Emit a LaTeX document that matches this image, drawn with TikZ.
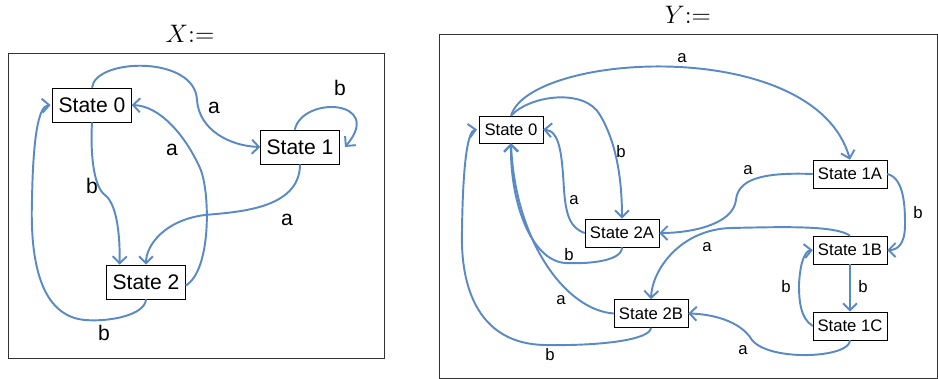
\documentclass[tikz,border=0pt]{standalone}
\usepackage{fontspec}
\setmainfont{Liberation Sans}
\usepackage{tikz}
\usetikzlibrary{arrows.meta}
\definecolor{edgeblue}{HTML}{5A8AC6}
\definecolor{framegray}{HTML}{333333}

\begin{document}
\begin{tikzpicture}[x=0.02cm, y=-0.02cm, >={Straight Barb[length=4pt,width=8pt]},
    bigstate/.style={draw, thin, minimum width=44.8pt, minimum height=19.3pt, inner sep=0pt, font=\fontsize{12}{14}\selectfont},
    smallstate/.style={draw, thin, minimum width=42pt, minimum height=15.9pt, inner sep=0pt, font=\fontsize{9.5}{11}\selectfont},
    biglabel/.style={font=\fontsize{12}{14}\selectfont},
    smalllabel/.style={font=\fontsize{9.5}{11}\selectfont},
    edge/.style={->, edgeblue, line width=1.1pt}]
    \useasboundingbox (0,0) rectangle (938,379);

    % Frames and titles
    \draw[framegray, thin] (8,53) rectangle (384,358);
    \draw[framegray, thin] (439,34) rectangle (937.5,378);
    \node[font=\fontsize{14}{16}\selectfont] (xtitle) at (190,34) {$X{:=}$};
    \node[font=\fontsize{14}{16}\selectfont] (ytitle) at (688,15) {$Y{:=}$};

    % Automaton X
    \node[bigstate] (x0) at (92,105) {State 0};
    \node[bigstate] (x1) at (300,147) {State 1};
    \node[bigstate] (x2) at (146,282) {State 2};

    \draw[edge] (x0.north) .. controls (95,58) and (195,55) .. (197,100)
        .. controls (199,130) and (230,146) .. (x1.west);
    \draw[edge] ([xshift=-3pt]x1.north) .. controls (303,95) and (385,100) .. ([xshift=3pt]x1.east);
    \draw[edge] (x1.south) .. controls (300,210) and (235,212) .. (205,215)
        .. controls (165,220) and (146,245) .. (x2.north);
    \draw[edge] (x0.south) .. controls (90,160) and (95,188) .. (105,195)
        .. controls (118,205) and (120,240) .. ([xshift=-15pt]x2.north);
    \draw[edge] ([yshift=-2pt]x2.east) .. controls (212,270) and (210,190) .. (200,168)
        .. controls (185,135) and (160,106) .. (x0.east);
    \draw[edge] (x2.south) .. controls (145,315) and (110,322) .. (85,320)
        .. controls (40,316) and (30,260) .. (32,200)
        .. controls (33,140) and (38,106) .. ([xshift=-1pt]x0.west);

    \node[biglabel] (xa1) at (214,108) {a};
    \node[biglabel] (xb1) at (340,88) {b};
    \node[biglabel] (xa2) at (287,220) {a};
    \node[biglabel] (xb2) at (92,186) {b};
    \node[biglabel] (xa3) at (172,150) {a};
    \node[biglabel] (xb3) at (104,333) {b};

    % Automaton Y
    \node[smallstate, minimum width=36.3pt, minimum height=15.3pt] (y0) at (511,129.5) {State 0};
    \node[smallstate] (y2a) at (622,233) {State 2A};
    \node[smallstate] (y2b) at (651,313.5) {State 2B};
    \node[smallstate] (y1a) at (850,174) {State 1A};
    \node[smallstate] (y1b) at (850,250) {State 1B};
    \node[smallstate] (y1c) at (850,326) {State 1C};

    \draw[edge] (y0.north) .. controls (530,52) and (815,35) .. (y1a.north);
    \draw[edge] (y0.north) .. controls (530,95) and (585,88) .. (600,115)
        .. controls (618,145) and (622,185) .. (y2a.north);
    \draw[edge] (y2a.west) .. controls (570,228) and (566,215) .. (564,190)
        .. controls (562,155) and (560,131) .. (y0.east);
    \draw[edge] (y2a.south) .. controls (622,262) and (585,264) .. (565,263)
        .. controls (530,260) and (510,200) .. (y0.south);
    \draw[edge] (y2b.west) .. controls (565,310) and (515,240) .. (y0.south);
    \draw[edge] (y2b.south) .. controls (650,340) and (600,346) .. (545,345)
        .. controls (480,344) and (460,290) .. (462,230)
        .. controls (463,160) and (468,131) .. ([xshift=-1pt]y0.west);
    \draw[edge] (y1a.west) .. controls (760,172) and (738,180) .. (736,200)
        .. controls (733,225) and (690,233) .. (y2a.east);
    \draw[edge] (y1a.east) .. controls (905,178) and (905,210) .. (905,225)
        .. controls (905,245) and (897,250) .. (y1b.east);
    \draw[edge] (y1b.north) .. controls (835,225) and (780,227) .. (730,228)
        .. controls (680,230) and (652,270) .. (y2b.north);
    \draw[edge] (y1b.south) -- (y1c.north);
    \draw[edge] (y1c.west) .. controls (800,318) and (799,300) .. (799,285)
        .. controls (800,262) and (805,251) .. (y1b.west);
    \draw[edge] (y1c.south) .. controls (850,358) and (770,362) .. (752,340)
        .. controls (740,320) and (710,314) .. (y2b.east);

    \node[smalllabel] (ya1) at (682,58) {a};
    \node[smalllabel] (yb1) at (621,152) {b};
    \node[smalllabel] (ya2) at (574,200) {a};
    \node[smalllabel] (yb2) at (569,255) {b};
    \node[smalllabel] (ya3) at (561,300) {a};
    \node[smalllabel] (yb3) at (550,355) {b};
    \node[smalllabel] (ya4) at (748,170) {a};
    \node[smalllabel] (yb4) at (918,213) {b};
    \node[smalllabel] (ya5) at (707,247) {a};
    \node[smalllabel] (yb5) at (863,287) {b};
    \node[smalllabel] (yb6) at (786,287) {b};
    \node[smalllabel] (ya6) at (743,350) {a};
\end{tikzpicture}
\end{document}
